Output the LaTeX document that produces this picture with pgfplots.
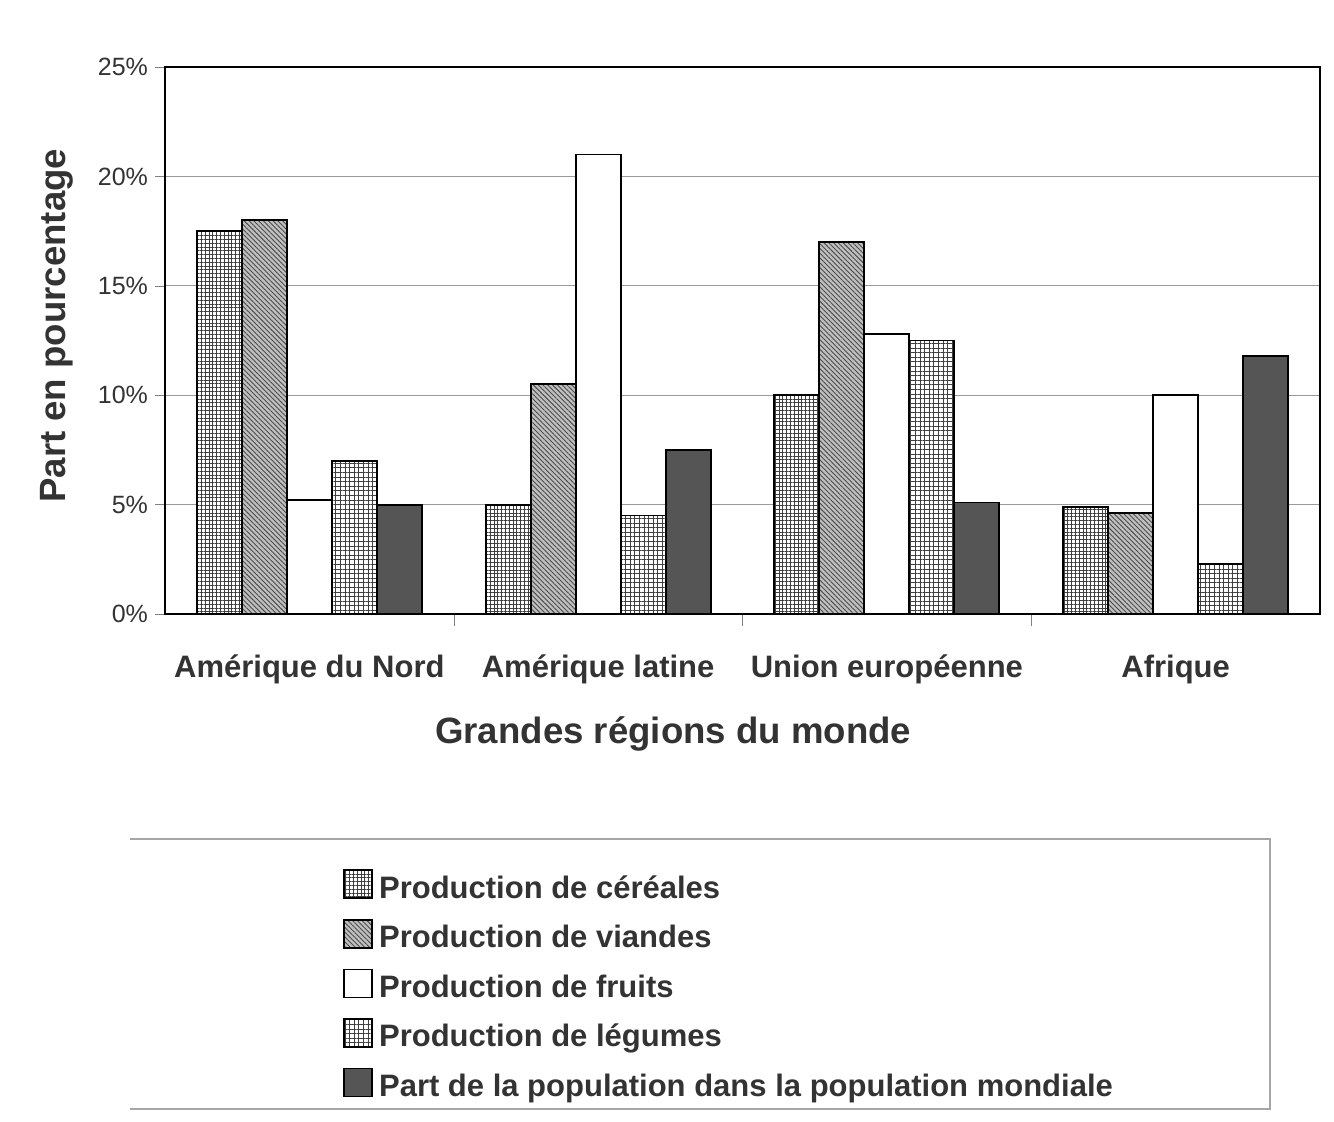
\documentclass[border=0pt]{standalone}
\usepackage{pgfplots}
\pgfplotsset{compat=1.18}
\usepackage{fontspec}
\setmainfont{Liberation Sans}
\usetikzlibrary{patterns.meta}

\definecolor{txt}{HTML}{333333}
\definecolor{popgray}{HTML}{555555}
\definecolor{gridgray}{HTML}{999999}

\begin{document}
\begin{tikzpicture}
\path[use as bounding box] (0,0) rectangle (667pt,560.5pt);
\begin{axis}[
  at={(82.5pt,253.5pt)}, anchor=south west,
  scale only axis, width=577.5pt, height=273.5pt,
  ybar=0pt, bar width=22.5pt,
  xmin=-0.5, xmax=3.5, ymin=0, ymax=25,
  xtick={0,1,2,3},
  xticklabels={Amérique du Nord, Amérique latine, Union européenne, Afrique},
  minor xtick={0.5,1.5,2.5},
  major x tick style={draw=none},
  minor tick length=6pt,
  ytick={0,5,...,25},
  yticklabel={\pgfmathprintnumber{\tick}\%},
  /pgf/number format/assume math mode=true,
  tick align=outside, tick pos=left, major tick length=5pt,
  ymajorgrids, grid style={gridgray, line width=0.6pt},
  axis line style={line width=0.8pt},
  yticklabel style={font=\fontsize{12.5}{14}\selectfont, text=txt},
  xticklabel style={font=\bfseries\fontsize{15.5}{18}\selectfont, text=txt, yshift=-12pt},
  xlabel={Grandes régions du monde},
  xlabel style={at={(axis description cs:0.44,-0.22)}, anchor=center,
    font=\bfseries\fontsize{18.3}{22}\selectfont, text=txt},
  ylabel={Part en pourcentage},
  ylabel style={at={(axis description cs:-0.0935,0.527)}, anchor=center,
    font=\bfseries\fontsize{18.3}{22}\selectfont, text=txt},
  legend cell align=left,
  legend image code/.code={\draw[#1, line width=0.8pt] (0pt,-5pt) rectangle (14pt,9pt);},
  legend style={at={(0.149,-0.459)}, anchor=north west, draw=none, fill=none,
    font=\bfseries\fontsize{15.5}{18}\selectfont, text=txt, row sep=7pt,
    /tikz/every odd column/.append style={column sep=1pt}},
]

% céréales
\addplot[draw=black, line width=0.9pt, fill=white,
  postaction={pattern={Hatch[angle=0, distance=1.9pt, line width=0.45pt]}, pattern color=black!75}]
  coordinates {(0,17.5) (1,5.0) (2,10.0) (3,4.9)};
\addlegendentry{Production de céréales}

% viandes
\addplot[draw=black, line width=0.9pt, fill=gray!50,
  postaction={pattern={Lines[angle=-45, distance=1.7pt, line width=0.45pt]}, pattern color=black!70}]
  coordinates {(0,18.0) (1,10.5) (2,17.0) (3,4.6)};
\addlegendentry{Production de viandes}

% fruits
\addplot[draw=black, line width=0.9pt, fill=white]
  coordinates {(0,5.2) (1,21.0) (2,12.8) (3,10.0)};
\addlegendentry{Production de fruits}

% légumes
\addplot[draw=black, line width=0.9pt, fill=white,
  postaction={pattern={Hatch[angle=0, distance=2.3pt, line width=0.5pt]}, pattern color=black!75}]
  coordinates {(0,7.0) (1,4.5) (2,12.5) (3,2.3)};
\addlegendentry{Production de légumes}

% population
\addplot[draw=black, line width=0.9pt, fill=popgray]
  coordinates {(0,5.0) (1,7.5) (2,5.1) (3,11.8)};
\addlegendentry{Part de la population dans la population mondiale}

\end{axis}
% cadre de la légende
\draw[gray!70, line width=0.6pt] (65pt,141pt) -- (635pt,141pt) -- (635pt,6pt) -- (65pt,6pt);
\end{tikzpicture}
\end{document}
